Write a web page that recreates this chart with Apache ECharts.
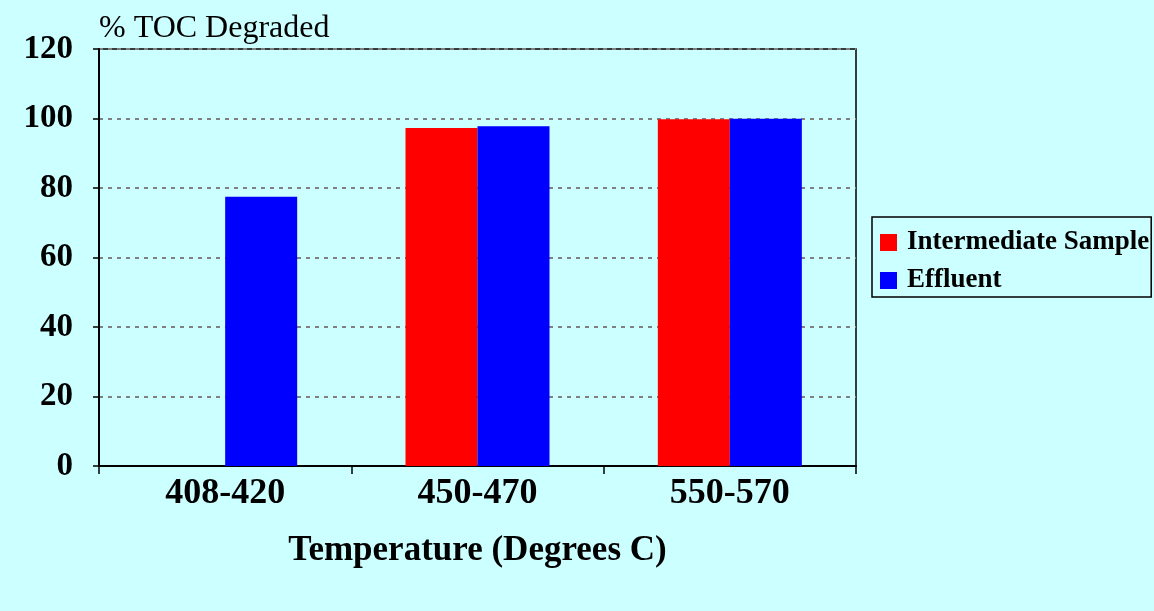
<!DOCTYPE html>
<html>
<head>
<meta charset="utf-8">
<script src="https://cdn.jsdelivr.net/npm/echarts@6/dist/echarts.min.js"></script>
<style>html,body{margin:0;padding:0;background:#CCFFFF;}#c{width:1154px;height:611px;}</style>
</head>
<body>
<div id="c"></div>
<script>
const categories = ['408-420', '450-470', '550-570'];
const intermediate = [null, 97.3, 99.8];
const effluent = [77.5, 97.8, 99.9];
const seriesNames = ['Intermediate Sample', 'Effluent'];
const FONT = '"Liberation Serif", "Times New Roman", serif';

const chart = echarts.init(document.getElementById('c'));
chart.setOption({
  backgroundColor: '#CCFFFF',
  animation: false,
  grid: { left: 99, right: 298, top: 49, bottom: 145, show: true, borderColor: '#000', borderWidth: 1.5, backgroundColor: 'transparent' },
  legend: {
    orient: 'vertical', left: 872, top: 217,
    width: 262,
    padding: [12, 2, 3, 8],
    itemGap: 11, itemWidth: 17, itemHeight: 17,
    borderColor: '#000', borderWidth: 1.5,
    icon: 'rect',
    textStyle: { fontFamily: FONT, fontWeight: 'bold', fontSize: 27, color: '#000', lineHeight: 27, padding: [0, 0, 0, 5] },
    data: seriesNames
  },
  xAxis: {
    type: 'category', data: categories,
    name: 'Temperature (Degrees C)', nameLocation: 'middle', nameGap: 67,
    nameTextStyle: { fontFamily: FONT, fontWeight: 'bold', fontSize: 35, color: '#000' },
    axisLine: { lineStyle: { color: '#000', width: 2 } },
    axisTick: { show: true, alignWithLabel: false, length: 8, lineStyle: { color: '#000', width: 1.5 } },
    axisLabel: { fontFamily: FONT, fontWeight: 'bold', fontSize: 36, color: '#000', margin: 10 },
    splitLine: { show: false }
  },
  yAxis: {
    type: 'value', min: 0, max: 120, interval: 20,
    name: '% TOC Degraded', nameLocation: 'end', nameGap: 20,
    nameTextStyle: { fontFamily: FONT, fontSize: 32, color: '#000', align: 'left', verticalAlign: 'middle' },
    axisLine: { show: true, lineStyle: { color: '#000', width: 2 } },
    axisTick: { show: true, length: 6, lineStyle: { color: '#000', width: 1.5 } },
    axisLabel: { fontFamily: FONT, fontWeight: 'bold', fontSize: 33, color: '#000', margin: 26, padding: [4, 0, 0, 0] },
    splitLine: { show: true, lineStyle: { color: '#808080', type: [4, 5], width: 2 } }
  },
  series: [
    { name: seriesNames[0], type: 'bar', data: intermediate, barWidth: 72, barGap: '0%', itemStyle: { color: '#FF0000' } },
    { name: seriesNames[1], type: 'bar', data: effluent, barWidth: 72, barGap: '0%', itemStyle: { color: '#0000FF' } }
  ]
});
</script>
</body>
</html>
